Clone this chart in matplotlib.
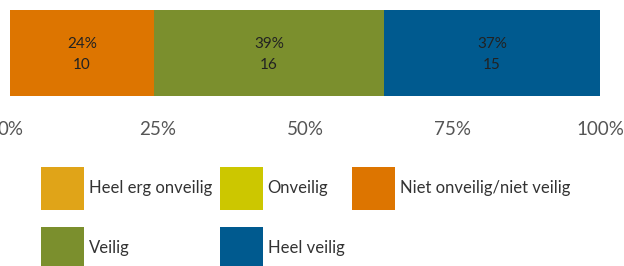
import matplotlib
matplotlib.use("Agg")
import matplotlib.pyplot as plt
import numpy as np

plt.rcParams['font.family'] = ['Lato', 'DejaVu Sans']

# answer categories and counts
categories = ['Heel erg onveilig', 'Onveilig', 'Niet onveilig/niet veilig', 'Veilig', 'Heel veilig']
counts = np.array([0, 0, 10, 16, 15])
colors = ['#E0A418', '#CCC700', '#DD7500', '#7B8F2D', '#005A8F']
ticks = [0, 25, 50, 75, 100]
tick_labels = ['0%', '25%', '50%', '75%', '100%']

pct = counts / counts.sum() * 100

fig = plt.figure(figsize=(6.24, 2.66), dpi=100)
ax = fig.add_axes([10 / 624, 1 - 96 / 266, 590 / 624, 86 / 266])

left = 0
bars = []
for cat, v, n, c in zip(categories, pct, counts, colors):
    b = ax.barh(0, v, left=left, height=1.0, color=c, label=cat)
    bars.append(b)
    if n > 0:
        ax.text(left + v / 2, 0.11, f'{v:.0f}%', ha='center', va='center',
                fontsize=11, color='#222222')
        ax.text(left + v / 2, -0.135, f'{n}', ha='center', va='center',
                fontsize=11, color='#222222')
    left += v

ax.set_xlim(0, 100)
ax.set_ylim(-0.5, 0.5)
ax.set_yticks([])
ax.set_xticks(ticks)
ax.set_xticklabels(tick_labels, fontsize=13.5, color='#555555')
ax.tick_params(axis='x', length=0, pad=18)
for s in ax.spines.values():
    s.set_visible(False)

# legend is filled column by column, so reorder to get rows
order = [0, 3, 1, 4, 2]
handles = [bars[i] for i in order]
labels = [categories[i] for i in order]
# handleheight 3.59 -> about 43px high squares (matplotlib subtracts a descent)
fig.legend(handles, labels, loc='upper left', bbox_to_anchor=(41 / 624, 1 - 167 / 266),
           ncol=3, frameon=False, fontsize=12, handlelength=2.58, handleheight=3.59,
           handletextpad=0.3, columnspacing=0.45, labelspacing=1.02,
           borderpad=0, borderaxespad=0, labelcolor='#333333')

fig.savefig('out.png', dpi=100)
